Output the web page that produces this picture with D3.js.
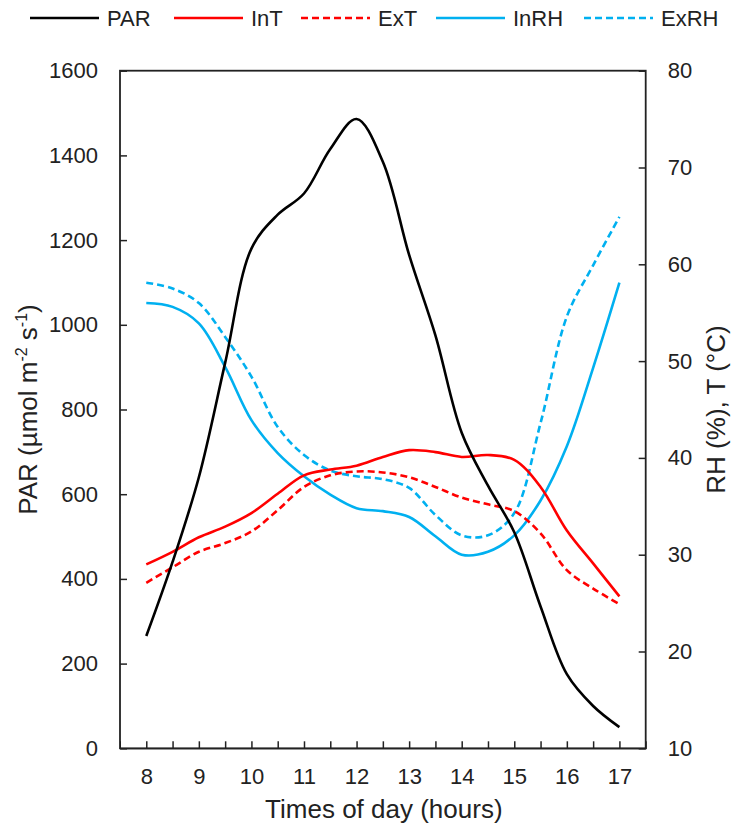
<!DOCTYPE html>
<html>
<head>
<meta charset="utf-8">
<script src="https://cdn.jsdelivr.net/npm/d3@7"></script>
<style>
  body { margin: 0; background: #fff; }
  svg text { font-family: "Liberation Sans", Arial, sans-serif; fill: #222; }
</style>
</head>
<body>
<svg id="chart" width="733" height="827"></svg>
<script>
// half-hourly readings
const hours = [8, 8.5, 9, 9.5, 10, 10.5, 11, 11.5, 12, 12.5, 13, 13.5, 14, 14.5, 15, 15.5, 16, 16.5, 17];
const par   = [265, 440, 640, 910, 1180, 1260, 1310, 1415, 1486, 1385, 1165, 975, 745, 620, 510, 335, 175, 100, 50];
const inT   = [29.0, 30.3, 31.8, 32.9, 34.3, 36.3, 38.2, 38.8, 39.2, 40.1, 40.8, 40.6, 40.1, 40.3, 39.8, 37.0, 32.5, 29.1, 25.7];
const exT   = [27.1, 28.7, 30.3, 31.2, 32.4, 34.6, 37.0, 38.2, 38.6, 38.5, 38.0, 37.0, 35.9, 35.2, 34.5, 32.2, 28.4, 26.5, 24.9];
const inRH  = [56.0, 55.6, 53.9, 49.4, 43.9, 40.5, 38.1, 36.2, 34.8, 34.5, 33.9, 31.9, 30.0, 30.3, 32.0, 35.6, 41.2, 49.3, 58.1];
const exRH  = [58.1, 57.5, 56.0, 52.5, 48.4, 43.2, 40.3, 38.7, 38.1, 37.8, 36.9, 34.1, 32.0, 32.0, 34.3, 43.6, 54.6, 59.9, 64.9];

const xTicks = [8, 9, 10, 11, 12, 13, 14, 15, 16, 17];
const parTicks = [0, 200, 400, 600, 800, 1000, 1200, 1400, 1600];
const rightTicks = [10, 20, 30, 40, 50, 60, 70, 80];

const series = [
  { name: "PAR",  values: par,  axis: "left",  color: "#000000", dash: null },
  { name: "InT",  values: inT,  axis: "right", color: "#ff0000", dash: null },
  { name: "ExT",  values: exT,  axis: "right", color: "#ff0000", dash: "7,4" },
  { name: "InRH", values: inRH, axis: "right", color: "#00b0f0", dash: null },
  { name: "ExRH", values: exRH, axis: "right", color: "#00b0f0", dash: "7,4" }
];

const svg = d3.select("#chart");
const plotLeft = 120, plotRight = 645.7, plotTop = 70.7, plotBottom = 748.3;

const x = d3.scaleLinear().domain([7.5, 17.5]).range([plotLeft, plotRight]);
const yL = d3.scaleLinear().domain([0, 1600]).range([plotBottom, plotTop]);
const yR = d3.scaleLinear().domain([10, 80]).range([plotBottom, plotTop]);

// axes with inward ticks
const halfHours = d3.range(8, 17.01, 0.5);
svg.append("g")
  .attr("transform", `translate(0,${plotBottom})`)
  .call(d3.axisBottom(x).tickValues(halfHours).tickSize(-7).tickFormat(""))
  .call(g => g.selectAll("line").attr("stroke", "#222").attr("stroke-width", 1.5));
svg.append("g")
  .attr("transform", `translate(0,${plotBottom})`)
  .call(d3.axisBottom(x).tickValues(xTicks).tickSize(0).tickPadding(20).tickFormat(d3.format("d")))
  .call(g => g.select(".domain").remove())
  .call(g => g.selectAll("text").attr("font-size", 22).attr("fill", "#222"));

svg.append("g")
  .attr("transform", `translate(${plotLeft},0)`)
  .call(d3.axisLeft(yL).tickValues(parTicks).tickSize(-7).tickPadding(22).tickFormat(d3.format("d")))
  .call(g => g.select(".domain").remove())
  .call(g => g.selectAll("line").attr("stroke", "#222").attr("stroke-width", 1.5))
  .call(g => g.selectAll("text").attr("font-size", 22).attr("fill", "#222"));

svg.append("g")
  .attr("transform", `translate(${plotRight},0)`)
  .call(d3.axisRight(yR).tickValues(rightTicks).tickSize(-7).tickPadding(22).tickFormat(d3.format("d")))
  .call(g => g.select(".domain").remove())
  .call(g => g.selectAll("line").attr("stroke", "#222").attr("stroke-width", 1.5))
  .call(g => g.selectAll("text").attr("font-size", 22).attr("fill", "#222"));

// frame
svg.append("rect")
  .attr("x", plotLeft).attr("y", plotTop)
  .attr("width", plotRight - plotLeft).attr("height", plotBottom - plotTop)
  .attr("fill", "none").attr("stroke", "#222").attr("stroke-width", 1.8);

// lines
const line = (s) => d3.line()
  .x((d, i) => x(hours[i]))
  .y(d => s.axis === "left" ? yL(d) : yR(d))
  .curve(d3.curveCatmullRom.alpha(0.5));

svg.append("g").selectAll("path")
  .data(series.slice().reverse())
  .join("path")
  .attr("d", s => line(s)(s.values))
  .attr("fill", "none")
  .attr("stroke", s => s.color)
  .attr("stroke-width", 2.6)
  .attr("stroke-dasharray", s => s.dash);

// axis titles
svg.append("text")
  .attr("x", (plotLeft + plotRight) / 2 + 1).attr("y", 818)
  .attr("text-anchor", "middle").attr("font-size", 26)
  .text("Times of day (hours)");

const yTitle = svg.append("text")
  .attr("transform", `translate(37,${(plotTop + plotBottom) / 2}) rotate(-90)`)
  .attr("text-anchor", "middle").attr("font-size", 26);
yTitle.append("tspan").text("PAR (µmol m");
yTitle.append("tspan").attr("font-size", 16).attr("dy", -10).text("-2");
yTitle.append("tspan").attr("dy", 10).text(" s");
yTitle.append("tspan").attr("font-size", 16).attr("dy", -10).text("-1");
yTitle.append("tspan").attr("dy", 10).text(")");

svg.append("text")
  .attr("transform", `translate(725,${(plotTop + plotBottom) / 2}) rotate(-90)`)
  .attr("text-anchor", "middle").attr("font-size", 26)
  .text("RH (%), T (°C)");

// legend
const legendX = [30, 174, 301, 436, 584];
const legend = svg.append("g").selectAll("g")
  .data(series)
  .join("g")
  .attr("transform", (s, i) => `translate(${legendX[i]},18)`);
legend.append("line")
  .attr("x1", 0).attr("x2", 69)
  .attr("stroke", s => s.color)
  .attr("stroke-width", 2.6)
  .attr("stroke-dasharray", s => s.dash);
legend.append("text")
  .attr("x", 77).attr("y", 8)
  .attr("font-size", 22)
  .text(s => s.name);
</script>
</body>
</html>
